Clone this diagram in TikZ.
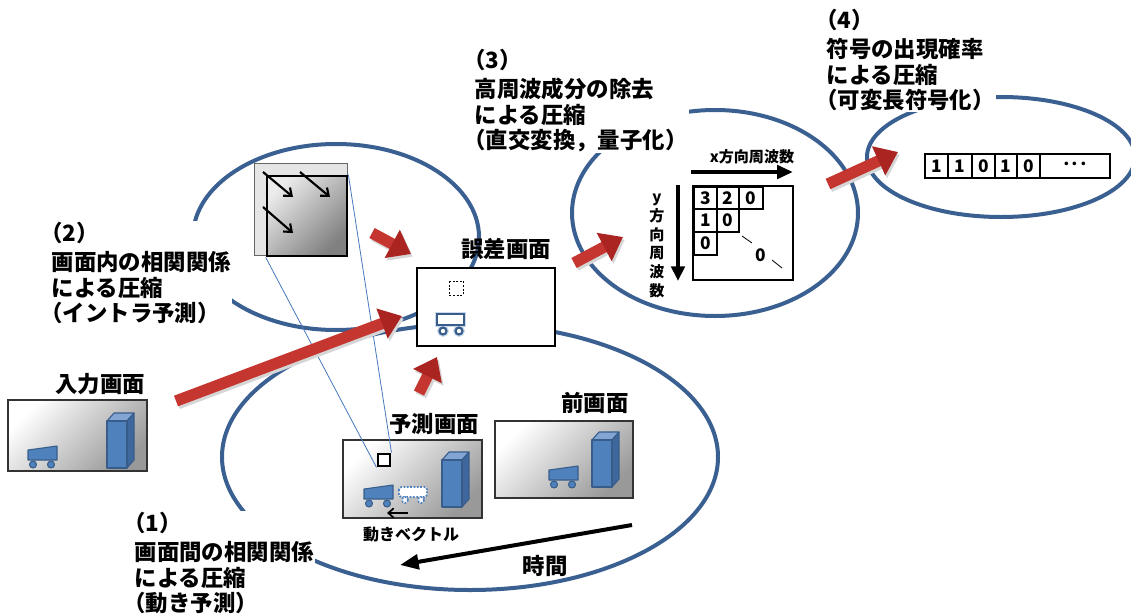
\documentclass[tikz,border=0pt]{standalone}
\usepackage{fontspec}
\setmainfont{Noto Sans CJK JP}
\usetikzlibrary{arrows.meta}

\definecolor{ringblue}{RGB}{58,95,145}
\definecolor{solidblue}{RGB}{79,129,189}
\definecolor{edgeblue}{RGB}{56,93,138}
\definecolor{topblue}{RGB}{130,165,212}
\definecolor{sideblue}{RGB}{62,103,158}
\definecolor{blockred}{RGB}{198,54,48}
\definecolor{blockredtip}{RGB}{170,36,34}
\definecolor{linkblue}{RGB}{70,120,190}

\tikzset{
  ring/.style={draw=ringblue, line width=3pt},
  picframe/.style={draw=black!80, line width=0.9pt, inner sep=0pt,
    top color=white, bottom color=black!40, shading angle=45},
  caption/.style={font=\fontsize{16.8pt}{19pt}\selectfont\bfseries, inner sep=0pt},
  note/.style={caption, align=left, anchor=base west, fill=white, inner sep=1pt},
  smallcap/.style={font=\fontsize{12pt}{14pt}\selectfont\bfseries, inner sep=0pt},
  axiscap/.style={font=\fontsize{11.3pt}{14pt}\selectfont\bfseries, inner sep=0pt},
  digit/.style={font=\fontsize{13pt}{14pt}\selectfont\bfseries, inner sep=0pt},
  blockarrow/.style={draw=blockred, line width=8.5pt,
    -{Triangle[length=16pt,width=23pt,color=blockredtip]}},
  blockshadow/.style={draw=black!16, line width=8.5pt,
    -{Triangle[length=16pt,width=23pt]}, transform canvas={shift={(1.4pt,-2pt)}}},
  thinlink/.style={draw=linkblue, line width=0.6pt},
  heavyarrow/.style={draw=black, line width=3pt, -{Triangle[length=14pt,width=11pt]}},
  barbarrow/.style={draw=black, line width=1.6pt, -{Straight Barb[length=5pt,width=8pt]}},
  cell/.style={draw=black, line width=0.9pt},
  solidshape/.style={fill=solidblue, draw=edgeblue, line width=0.8pt, line join=round},
  ghost/.style={draw=solidblue, fill=white, line width=1.3pt, dash pattern=on 1.3pt off 1.2pt},
  glowline/.style={draw=solidblue!30, line width=3.5pt},
  outlineline/.style={draw=edgeblue, line width=1.6pt},
  pics/vehicle/.style={code={
    \draw[solidshape] (0,0) -- (0,-10) -- (29,-14) -- (29,0) -- cycle;
    \draw[solidshape] (5,4.5) circle [radius=3.5];
    \draw[solidshape] (23,4.5) circle [radius=3.5];
  }},
  pics/tower/.style={code={
    \draw[solidshape, fill=topblue] (0,-47) -- (7,-55) -- (27,-55) -- (20,-47) -- cycle;
    \draw[solidshape, fill=sideblue] (20,-47) -- (27,-55) -- (27,-8) -- (20,0) -- cycle;
    \draw[solidshape] (0,0) rectangle (20,-47);
  }},
}

\begin{document}
\begin{tikzpicture}[x=0.75pt, y=-0.75pt]
\useasboundingbox (0,0) rectangle (1131,614);

% the four compression stages, each as a ring
\draw[ring] (336,237) ellipse [x radius=143, y radius=93];
\draw[ring] (470,457) ellipse [x radius=248, y radius=133];
\draw[ring] (715,213) ellipse [x radius=143, y radius=103];
\draw[ring] (1001,157) ellipse [x radius=134, y radius=60];

% intra block with reference arrows
\node[draw=black!60, fill=black!10, line width=0.6pt, minimum width=69.75pt, minimum height=69pt, inner sep=0]
  (intraouter) at (300.5,209) {};
\node[draw=black, line width=2pt, top color=black!8, bottom color=black!50, shading angle=45,
  minimum width=60pt, minimum height=60pt, inner sep=0] (intra) at (307,216) {};
\draw[barbarrow] (263,172) -- (293,197);
\draw[barbarrow] (300,172) -- (330,197);
\draw[barbarrow] (263,207) -- (293,233);

% predicted picture
\node[picframe, minimum width=104.25pt, minimum height=58.5pt] (pred) at (412.5,479) {};
\node[caption] (predcap) at (434,424) {予測画面};
\node[draw=black, fill=white, line width=1.7pt, minimum size=9.5pt, inner sep=0] (refsq) at (384,460) {};
\pic at (364,499) {vehicle};
\draw[ghost, rounded corners=2pt] (399,487) rectangle (427,497);
\draw[ghost] (405,500) circle [radius=3];
\draw[ghost] (421,500) circle [radius=3];
\pic at (442,507) {tower};
\coordinate (mv0) at (408,513);
\coordinate (mv1) at (387,513);
\draw[draw=black, line width=1.3pt, -{Straight Barb[length=4pt,width=7pt]}] (mv0) -- (mv1);
\node[smallcap] (mvcap) at (411,535) {動きベクトル};

% links from the intra block down to the reference square
\draw[thinlink] (intra.south west) -- (refsq.south west);
\draw[thinlink] (intra.north east) -- (refsq.north east);

% input picture
\node[picframe, minimum width=104.25pt, minimum height=53.25pt] (input) at (77.5,435.5) {};
\node[caption] (inputcap) at (100,384) {入力画面};
\pic at (28,460) {vehicle};
\pic at (107,468) {tower};

% previous picture
\node[picframe, minimum width=103.5pt, minimum height=57.75pt] (prev) at (564,459.5) {};
\node[caption] (prevcap) at (595,403) {前画面};
\pic at (549,480) {vehicle};
\pic at (592,487) {tower};

% residual picture
\node[draw=black, fill=white, line width=1pt, minimum width=103.5pt, minimum height=58.5pt, inner sep=0]
  (resid) at (486,307) {};
\node[caption] (residcap) at (506,249) {誤差画面};
\draw[draw=black, line width=0.6pt, dash pattern=on 1.5pt off 1.2pt] (449,281) rectangle (463,295);
\draw[glowline] (437,314) rectangle (464,325);
\draw[glowline] (443,331) circle [radius=3.5];
\draw[glowline] (459,331) circle [radius=3.5];
\draw[outlineline, fill=white] (437,314) rectangle (464,325);
\draw[outlineline, fill=white] (443,331) circle [radius=3.5];
\draw[outlineline, fill=white] (459,331) circle [radius=3.5];

% transform coefficients
\node[draw=black, line width=1.8pt, minimum width=75pt, minimum height=70.5pt, inner sep=0]
  (coef) at (743,233) {};
\draw[cell] (694,187) rectangle (717,209);
\draw[cell] (717,187) rectangle (739,209);
\draw[cell] (739,187) rectangle (763,209);
\draw[cell] (694,209) rectangle (717,232);
\draw[cell] (717,209) rectangle (739,232);
\draw[cell] (694,232) rectangle (717,255);
\node[digit] at (705.5,198) {3};
\node[digit] at (728,198) {2};
\node[digit] at (751,198) {0};
\node[digit] at (705.5,220.5) {1};
\node[digit] at (728,220.5) {0};
\node[digit] at (705.5,243.5) {0};
\node[digit] at (761,255) {0};
\draw[line width=0.6pt] (742,236) -- (752,243);
\draw[line width=0.6pt] (772,260) -- (782,268);
\coordinate (fx0) at (691,172);
\coordinate (fx1) at (793,172);
\draw[heavyarrow, -{Triangle[length=12pt,width=10pt]}] (fx0) -- (fx1);
\node[axiscap] (fxcap) at (752,157) {x方向周波数};
\coordinate (fy0) at (678,185);
\coordinate (fy1) at (678,281);
\draw[heavyarrow, -{Triangle[length=11pt,width=10pt]}] (fy0) -- (fy1);
\node[axiscap, align=center] (fycap) at (657,246) {y\\方\\向\\周\\波\\数};

% variable-length code
\node[draw=black, line width=1pt, minimum width=138.75pt, minimum height=18pt, inner sep=0]
  (code) at (1017.5,166) {};
\foreach \xx in {948,972,995,1017,1040} \draw[line width=1pt] (\xx,154) -- (\xx,178);
\node[digit] at (936.5,166) {1};
\node[digit] at (960,166) {1};
\node[digit] at (983.5,166) {0};
\node[digit] at (1006,166) {1};
\node[digit] at (1028.5,166) {0};
\node[digit] at (1075,166) {･･･};

% time axis
\coordinate (t0) at (632,525);
\coordinate (t1) at (400,565);
\draw[heavyarrow] (t0) -- (t1);
\node[caption] (timecap) at (545,566) {時間};

% stage notes, anchored on the baseline of their last line
\node[note] (note1) at (133,611.5) {\hspace*{-0.5em}（1）\\[3pt]画面間の相関関係\\による圧縮\\\hspace*{-0.5em}（動き予測）};
\node[note] (note2) at (50,321.5) {\hspace*{-0.5em}（2）\\[3pt]画面内の相関関係\\による圧縮\\\hspace*{-0.5em}（イントラ予測）};
\node[note] (note3) at (473,148.5) {\hspace*{-0.5em}（3）\\[3pt]高周波成分の除去\\による圧縮\\\hspace*{-0.5em}（直交変換，量子化）};
\node[note] (note4) at (825,108.5) {\hspace*{-0.5em}（4）\\[3pt]符号の出現確率\\による圧縮\\\hspace*{-0.5em}（可変長符号化）};

% flow of the data between the stages
\coordinate (r1a) at (176,401);
\coordinate (r1b) at (402,316);
\coordinate (r2a) at (372,233);
\coordinate (r2b) at (411,254);
\coordinate (r3a) at (419,393);
\coordinate (r3b) at (437,357);
\coordinate (r4a) at (574,263);
\coordinate (r4b) at (623,237);
\coordinate (r5a) at (828,184);
\coordinate (r5b) at (898,152);
\foreach \s/\e in {r1a/r1b, r2a/r2b, r3a/r3b, r4a/r4b, r5a/r5b}
  \draw[blockshadow] (\s) -- (\e);
\foreach \s/\e in {r1a/r1b, r2a/r2b, r3a/r3b, r4a/r4b, r5a/r5b}
  \draw[blockarrow] (\s) -- (\e);
\end{tikzpicture}
\end{document}
